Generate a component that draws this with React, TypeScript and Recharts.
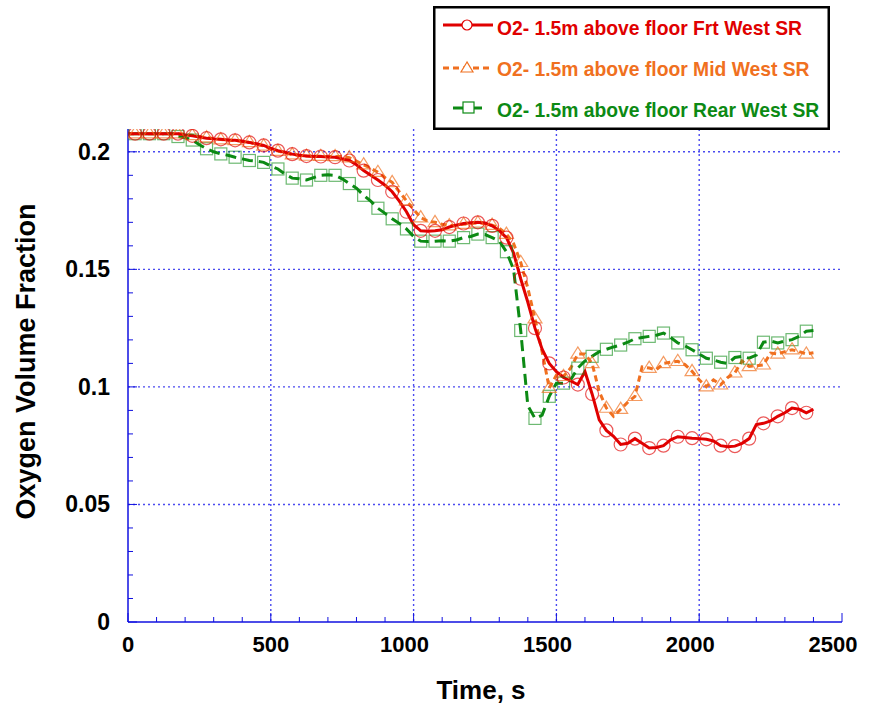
import React from 'react';
import { LineChart, Line, XAxis, YAxis, CartesianGrid, Legend } from 'recharts';

const times = [
  0, 25, 50, 75, 100, 125, 150, 175,
  200, 225, 250, 275, 300, 325, 350, 375,
  400, 425, 450, 475, 500, 525, 550, 575,
  600, 625, 650, 675, 700, 725, 750, 775,
  800, 825, 850, 875, 900, 925, 950, 975,
  1000, 1025, 1050, 1075, 1100, 1125, 1150, 1175,
  1200, 1225, 1250, 1275, 1300, 1325, 1350, 1375,
  1400, 1425, 1450, 1475, 1500, 1525, 1550, 1575,
  1600, 1625, 1650, 1675, 1700, 1725, 1750, 1775,
  1800, 1825, 1850, 1875, 1900, 1925, 1950, 1975,
  2000, 2025, 2050, 2075, 2100, 2125, 2150, 2175,
  2200, 2225, 2250, 2275, 2300, 2325, 2350, 2375,
  2400,
];

const frtWest = [
  0.2077, 0.2077, 0.2077, 0.2077, 0.2077, 0.2077, 0.2077, 0.2077,
  0.2072, 0.2068, 0.2063, 0.2058, 0.2055, 0.2053, 0.2050, 0.2049,
  0.2045, 0.2040, 0.2034, 0.2027, 0.2015, 0.2005, 0.1998, 0.1990,
  0.1985, 0.1982, 0.1980, 0.1980, 0.1978, 0.1977, 0.1970, 0.1963,
  0.1945, 0.1920, 0.1900, 0.1880, 0.1858, 0.1830, 0.1790, 0.1745,
  0.1690, 0.1664, 0.1662, 0.1664, 0.1668, 0.1680, 0.1688, 0.1695,
  0.1698, 0.1700, 0.1697, 0.1685, 0.1665, 0.1635, 0.1570, 0.1460,
  0.1360, 0.1250, 0.1160, 0.1100, 0.1065, 0.1040, 0.1025, 0.1010,
  0.1065, 0.0970, 0.0860, 0.0815, 0.0790, 0.0755, 0.0760, 0.0780,
  0.0760, 0.0740, 0.0742, 0.0750, 0.0775, 0.0788, 0.0785, 0.0782,
  0.0780, 0.0777, 0.0770, 0.0750, 0.0745, 0.0748, 0.0760, 0.0780,
  0.0840, 0.0845, 0.0855, 0.0875, 0.0890, 0.0910, 0.0905, 0.0890,
  0.0905,
];

const midWest = [
  0.2077, 0.2077, 0.2077, 0.2077, 0.2077, 0.2077, 0.2077, 0.2077,
  0.2075, 0.2070, 0.2065, 0.2060, 0.2057, 0.2052, 0.2050, 0.2048,
  0.2045, 0.2040, 0.2032, 0.2025, 0.2012, 0.2003, 0.1995, 0.1988,
  0.1985, 0.1982, 0.1982, 0.1981, 0.1980, 0.1980, 0.1980, 0.1975,
  0.1960, 0.1945, 0.1930, 0.1913, 0.1890, 0.1870, 0.1830, 0.1792,
  0.1755, 0.1720, 0.1705, 0.1700, 0.1692, 0.1686, 0.1688, 0.1692,
  0.1695, 0.1698, 0.1695, 0.1688, 0.1675, 0.1650, 0.1610, 0.1530,
  0.1420, 0.1290, 0.1150, 0.0995, 0.1050, 0.1045, 0.1080, 0.1140,
  0.1140, 0.1100, 0.0980, 0.0910, 0.0875, 0.0905, 0.0935, 0.0960,
  0.1085, 0.1080, 0.1073, 0.1100, 0.1105, 0.1109, 0.1095, 0.1066,
  0.1030, 0.1001, 0.1030, 0.1009, 0.1040, 0.1060, 0.1110, 0.1087,
  0.1090, 0.1094, 0.1144, 0.1140, 0.1150, 0.1158, 0.1150, 0.1140,
  0.1145,
];

const rearWest = [
  0.2077, 0.2077, 0.2077, 0.2077, 0.2077, 0.2077, 0.2077, 0.2065,
  0.2060, 0.2050, 0.2030, 0.2013, 0.2000, 0.1991, 0.1985, 0.1977,
  0.1970, 0.1963, 0.1960, 0.1955, 0.1940, 0.1927, 0.1905, 0.1888,
  0.1885, 0.1880, 0.1890, 0.1900, 0.1902, 0.1900, 0.1885, 0.1865,
  0.1845, 0.1815, 0.1790, 0.1760, 0.1738, 0.1715, 0.1695, 0.1672,
  0.1640, 0.1620, 0.1618, 0.1620, 0.1622, 0.1620, 0.1625, 0.1635,
  0.1640, 0.1650, 0.1648, 0.1635, 0.1620, 0.1575, 0.1500, 0.1240,
  0.0920, 0.0866, 0.0880, 0.0960, 0.1016, 0.1016, 0.1030, 0.1080,
  0.1110, 0.1130, 0.1150, 0.1160, 0.1170, 0.1178, 0.1190, 0.1205,
  0.1210, 0.1215, 0.1220, 0.1229, 0.1210, 0.1187, 0.1175, 0.1158,
  0.1140, 0.1122, 0.1115, 0.1105, 0.1100, 0.1125, 0.1130, 0.1122,
  0.1135, 0.1190, 0.1195, 0.1187, 0.1195, 0.1201, 0.1215, 0.1237,
  0.1240,
];

const xTicks = [
  0, 100, 200, 300, 400, 500, 600, 700, 800, 900, 1000, 1100, 1200, 1300, 1400,
  1500, 1600, 1700, 1800, 1900, 2000, 2100, 2200, 2300, 2400, 2500,
];
const yTicks = [
  0, 0.01, 0.02, 0.03, 0.04, 0.05, 0.06, 0.07, 0.08, 0.09, 0.1, 0.11, 0.12,
  0.13, 0.14, 0.15, 0.16, 0.17, 0.18, 0.19, 0.2,
];
const xGrid = [500, 1000, 1500, 2000];
const yGrid = [0.05, 0.1, 0.15, 0.2];

const seriesNames = [
  'O2- 1.5m above floor Frt West SR',
  'O2- 1.5m above floor Mid West SR',
  'O2- 1.5m above floor Rear West SR',
];

const data = times.map((t, i) => ({
  t,
  frt: frtWest[i],
  mid: midWest[i],
  rear: rearWest[i],
}));

const RED = '#e00000';
const ORANGE = '#f07020';
const GREEN = '#0c8a14';
const AXIS = '#1010e0';
const GRID = '#4a4af0';
const FONT = '"Liberation Sans", Arial, Helvetica, sans-serif';

const isMajorX = (v: number) => v % 500 === 0;
const isMajorY = (v: number) => Math.round(v * 100) % 5 === 0;

const BottomTick = (props: any) => {
  const { x, y, payload } = props;
  const v = payload.value;
  const major = isMajorX(v);
  const shift = v >= 1000 ? -9 : 0;
  return (
    <g>
      <line x1={x} x2={x} y1={y} y2={y - (major ? 9 : 5)} stroke={AXIS} strokeWidth={1} />
      {major && (
        <text x={x + shift} y={y + 30} textAnchor="middle" fontFamily={FONT} fontWeight="bold" fontSize={22} fill="#000">
          {v}
        </text>
      )}
    </g>
  );
};

const TopTick = (props: any) => {
  const { x, y, payload } = props;
  const major = isMajorX(payload.value);
  return <line x1={x} x2={x} y1={y} y2={y + (major ? 9 : 5)} stroke={AXIS} strokeWidth={1} />;
};

const LeftTick = (props: any) => {
  const { x, y, payload } = props;
  const v = payload.value;
  const major = isMajorY(v);
  return (
    <g>
      <line x1={x} x2={x + (major ? 9 : 5)} y1={y} y2={y} stroke={AXIS} strokeWidth={1} />
      {major && (
        <text x={x - 18} y={y + 8} textAnchor="end" fontFamily={FONT} fontWeight="bold" fontSize={23} fill="#000">
          {v === 0 ? '0' : String(v)}
        </text>
      )}
    </g>
  );
};

const RightTick = (props: any) => {
  const { x, y, payload } = props;
  const major = isMajorY(payload.value);
  return <line x1={x} x2={x - (major ? 9 : 5)} y1={y} y2={y} stroke={AXIS} strokeWidth={1} />;
};

const CircleDot = (props: any) => {
  const { cx, cy, index } = props;
  if (index % 2 !== 1 || cx == null || cy == null) return <g key={`c${index}`} />;
  return <circle key={`c${index}`} cx={cx} cy={cy} r={6.5} fill="none" stroke={RED} strokeOpacity={0.65} strokeWidth={1.2} />;
};

const TriDot = (props: any) => {
  const { cx, cy, index } = props;
  if (index % 2 !== 1 || cx == null || cy == null) return <g key={`t${index}`} />;
  const s = 7;
  return (
    <polygon
      key={`t${index}`}
      points={`${cx},${cy - s} ${cx - s},${cy + s * 0.6} ${cx + s},${cy + s * 0.6}`}
      fill="none"
      stroke={ORANGE}
      strokeOpacity={0.7}
      strokeWidth={1.2}
    />
  );
};

const SquareDot = (props: any) => {
  const { cx, cy, index } = props;
  if (index % 2 !== 1 || cx == null || cy == null) return <g key={`s${index}`} />;
  const s = 6;
  return (
    <rect key={`s${index}`} x={cx - s} y={cy - s} width={2 * s} height={2 * s} fill="none" stroke={GREEN} strokeOpacity={0.6} strokeWidth={1.2} />
  );
};

const LegendBox = () => (
  <svg width={397} height={124} style={{ display: 'block' }}>
    <rect x={1.25} y={1.25} width={394.5} height={121.5} fill="#fff" stroke="#000" strokeWidth={2.5} />
    <line x1={10} x2={60} y1={19} y2={19} stroke={RED} strokeWidth={3} />
    <circle cx={34} cy={19} r={5} fill="#fff" stroke={RED} strokeWidth={1.2} />
    <text x={64} y={29} fontFamily={FONT} fontWeight="bold" fontSize={19.3} fill={RED}>{seriesNames[0]}</text>
    <line x1={10} x2={60} y1={62} y2={62} stroke={ORANGE} strokeWidth={3} strokeDasharray="6 4" />
    <polygon points="34,56 28,66 40,66" fill="#fff" stroke={ORANGE} strokeWidth={1.2} />
    <text x={64} y={70} fontFamily={FONT} fontWeight="bold" fontSize={19.3} fill={ORANGE}>{seriesNames[1]}</text>
    <line x1={20} x2={56} y1={102} y2={102} stroke={GREEN} strokeWidth={3} strokeDasharray="11 7" />
    <rect x={30} y={96} width={11} height={11} fill="#fff" stroke={GREEN} strokeWidth={1.2} />
    <text x={64} y={111} fontFamily={FONT} fontWeight="bold" fontSize={19.3} fill={GREEN}>{seriesNames[2]}</text>
  </svg>
);

const XTitle = (props: any) => {
  const vb = props.viewBox || {};
  return (
    <text x={vb.x + vb.width / 2 - 4} y={vb.y + 77} textAnchor="middle" fontFamily={FONT} fontWeight="bold" fontSize={26} fill="#000">
      Time, s
    </text>
  );
};

const YTitle = (props: any) => {
  const vb = props.viewBox || {};
  const cx = 35;
  const cy = vb.y + vb.height / 2 - 14;
  return (
    <text x={cx} y={cy} transform={`rotate(-90, ${cx}, ${cy})`} textAnchor="middle" fontFamily={FONT} fontWeight="bold" fontSize={27} fill="#000">
      Oxygen Volume Fraction
    </text>
  );
};

export default function App() {
  return (
    <div style={{ position: 'absolute', left: 0, top: 0, width: 869, height: 708, background: '#fff' }}>
      <LineChart width={869} height={708} data={data} margin={{ top: 129, right: 27, left: 0, bottom: 56 }}>
        <CartesianGrid
          horizontal
          vertical
          horizontalValues={yGrid}
          verticalValues={xGrid}
          stroke={GRID}
          strokeWidth={1.4}
          strokeDasharray="2 3"
        />
        <XAxis
          dataKey="t"
          type="number"
          domain={[0, 2500]}
          ticks={xTicks}
          interval={0}
          allowDataOverflow
          height={30}
          tickSize={0}
          tickMargin={0}
          tickLine={false}
          axisLine={{ stroke: AXIS, strokeWidth: 1.5 }}
          tick={BottomTick}
          label={<XTitle />}
        />
        <XAxis
          xAxisId="top"
          orientation="top"
          dataKey="t"
          type="number"
          domain={[0, 2500]}
          ticks={xTicks}
          interval={0}
          allowDataOverflow
          height={0}
          tickSize={0}
          tickMargin={0}
          tickLine={false}
          axisLine={{ stroke: AXIS, strokeWidth: 1.5 }}
          tick={TopTick}
        />
        <YAxis
          type="number"
          domain={[0, 0.2097]}
          ticks={yTicks}
          interval={0}
          allowDataOverflow
          width={128}
          tickSize={0}
          tickMargin={0}
          tickLine={false}
          axisLine={{ stroke: AXIS, strokeWidth: 1.5 }}
          tick={LeftTick}
          label={<YTitle />}
        />
        <YAxis
          yAxisId="right"
          orientation="right"
          type="number"
          domain={[0, 0.2097]}
          ticks={yTicks}
          interval={0}
          allowDataOverflow
          width={0}
          tickSize={0}
          tickMargin={0}
          tickLine={false}
          axisLine={{ stroke: AXIS, strokeWidth: 1.5 }}
          tick={RightTick}
        />
        <Legend
          layout="horizontal"
          verticalAlign="middle"
          align="center"
          content={<LegendBox />}
          wrapperStyle={{ position: 'absolute', left: 433, top: 6, width: 397, height: 124 }}
        />
        <Line
          dataKey="rear"
          name={seriesNames[2]}
          type="linear"
          stroke={GREEN}
          strokeWidth={3}
          strokeDasharray="11 6"
          dot={SquareDot}
          activeDot={false}
          isAnimationActive={false}
        />
        <Line
          dataKey="mid"
          name={seriesNames[1]}
          type="linear"
          stroke={ORANGE}
          strokeWidth={3}
          strokeDasharray="6 4"
          dot={TriDot}
          activeDot={false}
          isAnimationActive={false}
        />
        <Line
          dataKey="frt"
          name={seriesNames[0]}
          type="linear"
          stroke={RED}
          strokeWidth={3}
          dot={CircleDot}
          activeDot={false}
          isAnimationActive={false}
        />
      </LineChart>
    </div>
  );
}
